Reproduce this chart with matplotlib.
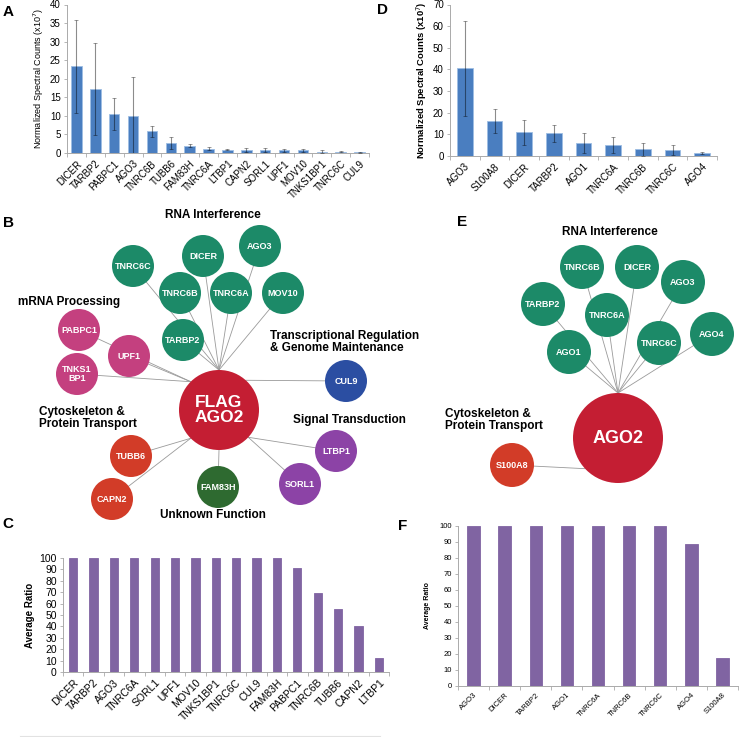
import numpy as np
import matplotlib
matplotlib.use("Agg")
import matplotlib.pyplot as plt
from matplotlib.patches import Circle

plt.rcParams['font.family'] = ['Liberation Sans', 'DejaVu Sans']

# --- panel A : normalized spectral counts, FLAG-AGO2 IP ----------------------
a_genes = ["DICER", "TARBP2", "PABPC1", "AGO3", "TNRC6B", "TUBB6", "FAM83H",
           "TNRC6A", "LTBP1", "CAPN2", "SORL1", "UPF1", "MOV10", "TNKS1BP1",
           "TNRC6C", "CUL9"]
a_counts = [23.3, 17.2, 10.5, 10.1, 5.8, 2.8, 2.0, 1.1, 0.9, 0.9, 0.8, 0.8,
            0.7, 0.4, 0.4, 0.15]
a_err = [12.5, 12.3, 4.3, 10.5, 1.6, 1.6, 0.5, 0.4, 0.1, 0.5, 0.6, 0.4, 0.5,
         0.3, 0.2, 0.05]

# --- panel D : normalized spectral counts, endogenous AGO2 IP ----------------
d_genes = ["AGO3", "S100A8", "DICER", "TARBP2", "AGO1", "TNRC6A", "TNRC6B",
           "TNRC6C", "AGO4"]
d_counts = [40.5, 16.2, 11.0, 10.5, 6.1, 5.2, 3.1, 2.8, 1.5]
d_err = [21.8, 5.5, 5.7, 4.0, 4.6, 3.8, 3.1, 2.3, 0.5]

# --- panels C / F : average ratio ------------------------------------------
c_genes = ["DICER", "TARBP2", "AGO3", "TNRC6A", "SORL1", "UPF1", "MOV10",
           "TNKS1BP1", "TNRC6C", "CUL9", "FAM83H", "PABPC1", "TNRC6B", "TUBB6",
           "CAPN2", "LTBP1"]
c_ratio = [100, 100, 100, 100, 100, 100, 100, 100, 100, 100, 100, 91.5, 69,
           55, 40, 12]
f_genes = ["AGO3", "DICER", "TARBP2", "AGO1", "TNRC6A", "TNRC6B", "TNRC6C",
           "AGO4", "S100A8"]
f_ratio = [100, 100, 100, 100, 100, 100, 100, 89, 17.5]

# --- networks B / E : node -> functional group ------------------------------
b_nodes = ["TNRC6C", "DICER", "AGO3", "TNRC6B", "TNRC6A", "MOV10", "TARBP2",
           "PABPC1", "UPF1", "TNKS1\nBP1", "CUL9", "LTBP1", "SORL1", "FAM83H",
           "TUBB6", "CAPN2"]
b_group = ["rna"] * 7 + ["mrna"] * 3 + ["tx", "sig", "sig", "unk", "cyto", "cyto"]
e_nodes = ["TNRC6B", "DICER", "AGO3", "TARBP2", "TNRC6A", "AGO4", "TNRC6C",
           "AGO1", "S100A8"]
e_group = ["rna"] * 8 + ["cyto"]

# layout (figure pixels, y downward)
B_POS = [(133, 266), (203, 256), (260, 246), (180, 293), (231, 293), (283, 293),
         (183, 340), (79, 330), (129, 356), (77, 374), (346, 381), (336, 451),
         (300, 484), (218, 487), (131, 456), (112, 499)]
E_POS = [(582, 267), (637, 267), (683, 282), (543, 304), (607, 315), (712, 334),
         (659, 343), (569, 352), (512, 465)]
GROUP_COL = {"rna": "#1c8a68", "mrna": "#c4407f", "cyto": "#d23c28",
             "tx": "#2b4ea2", "sig": "#8c43a6", "unk": "#2e6a30"}
B_ANCHOR = {"rna": 90, "mrna": 135, "tx": 48, "sig": -43, "unk": -90, "cyto": -135}
E_ANCHOR = {"rna": 90, "cyto": -137}
BLUE, BLUE_EDGE = "#4a7ec0", "#9dbde3"
PURPLE = "#8064a2"
W, H = 740, 737

fig = plt.figure(figsize=(W / 100, H / 100), dpi=100)

# overlay for networks and panel letters
ov = fig.add_axes([0, 0, 1, 1])
ov.set_xlim(0, W); ov.set_ylim(H, 0); ov.axis("off")


def network(nodes, groups, pos, hub, hub_r, hub_txt, node_r, anchors, hub_fs):
    hx, hy = hub
    for (x, y), g in zip(pos, groups):
        th = np.radians(anchors[g])
        ax_, ay_ = hx + hub_r * np.cos(th), hy - hub_r * np.sin(th)
        ov.plot([x, ax_], [y, ay_], color="#9a9a9a", lw=0.6, zorder=1)
    for (x, y), g, n in zip(pos, groups, nodes):
        ov.add_patch(Circle((x, y), node_r, color=GROUP_COL[g], zorder=2, lw=0))
        ov.text(x, y, n, color="white", fontsize=6.5, fontweight="bold",
                ha="center", va="center", zorder=3, linespacing=1.0)
    ov.add_patch(Circle(hub, hub_r, color="#c41e33", zorder=2, lw=0))
    ov.text(hx, hy, hub_txt, color="white", fontsize=hub_fs, fontweight="bold",
            ha="center", va="center", zorder=3, linespacing=1.05)


network(b_nodes, b_group, B_POS, (219, 410), 40, "FLAG\nAGO2", 21, B_ANCHOR, 12.5)
network(e_nodes, e_group, E_POS, (618, 438), 45, "AGO2", 22, E_ANCHOR, 13)

hk = dict(fontsize=8.5, fontweight="bold", zorder=3)
ov.text(213, 215, "RNA Interference", ha="center", va="center", **hk)
ov.text(69, 302, "mRNA Processing", ha="center", va="center", **hk)
ov.text(270, 342, "Transcriptional Regulation\n& Genome Maintenance",
        ha="left", va="center", linespacing=1.1, **hk)
ov.text(39, 418, "Cytoskeleton &\nProtein Transport", ha="left", va="center",
        linespacing=1.1, **hk)
ov.text(293, 420, "Signal Transduction", ha="left", va="center", **hk)
ov.text(213, 515, "Unknown Function", ha="center", va="center", **hk)
ov.text(610, 232, "RNA Interference", ha="center", va="center", **hk)
ov.text(445, 420, "Cytoskeleton &\nProtein Transport", ha="left", va="center",
        linespacing=1.1, **hk)

for lab, x, y in [("A", 8, 12), ("D", 383, 10), ("B", 8, 223), ("E", 462, 222),
                  ("C", 8, 524), ("F", 403, 526)]:
    ov.text(x, y, lab, fontsize=11, fontweight="bold", ha="center", va="center")

# faint frame edge left under panel C
ov.plot([20, 380], [735.5, 735.5], color="#e2e2e2", lw=0.8)


def bar_panel(px, names, vals, err, color, ymax, ystep, ylabel, width,
              xfs, yfs, lfs, lpad, edge=None, lweight="normal"):
    l, r, b, t = px
    ax = fig.add_axes([l / W, 1 - b / H, (r - l) / W, (b - t) / H])
    x = np.arange(len(names))
    ax.bar(x, vals, width=width, color=color,
           edgecolor=edge if edge else color, lw=0.6, zorder=2)
    if err is not None:
        ax.errorbar(x, vals, yerr=err, fmt="none", ecolor=(0, 0, 0, 0.45),
                    elinewidth=0.8, capsize=1.5, capthick=0.6, zorder=3)
    ax.set_xlim(-0.5, len(names) - 0.5); ax.set_ylim(0, ymax)
    ax.set_yticks(np.arange(0, ymax + 0.1, ystep))
    ax.set_xticks(x)
    ax.set_xticklabels(names, rotation=45, ha="right", rotation_mode="anchor",
                       fontsize=xfs)
    ax.set_xticks(np.arange(-0.5, len(names)), minor=True)
    ax.tick_params(axis="x", which="major", length=0, pad=4)
    ax.tick_params(axis="x", which="minor", length=3, color="#aaaaaa", width=0.6)
    ax.tick_params(axis="y", labelsize=yfs, length=2.5, color="#aaaaaa",
                   width=0.6, pad=2)
    ax.set_ylabel(ylabel, fontsize=lfs, labelpad=lpad, fontweight=lweight)
    for s in ("top", "right"):
        ax.spines[s].set_visible(False)
    for s in ("left", "bottom"):
        ax.spines[s].set_color("#aaaaaa"); ax.spines[s].set_linewidth(0.7)
    ax.patch.set_alpha(0)
    return ax


bar_panel((67, 369, 153, 4.5), a_genes, a_counts, a_err, BLUE, 40, 5,
          r"Normalized Spectral Counts (x10$^7$)", 0.55, 7, 7, 6.5, 3,
          edge=BLUE_EDGE)
bar_panel((450, 717, 156, 4.5), d_genes, d_counts, d_err, BLUE, 70, 10,
          r"Normalized Spectral Counts (x10$^7$)", 0.52, 7, 7, 6.8, 3,
          edge=BLUE_EDGE, lweight="bold")
bar_panel((63, 389, 672, 558), c_genes, c_ratio, None, PURPLE, 100, 10,
          "Average Ratio", 0.4, 7.5, 7.5, 7, 3, lweight="bold")
bar_panel((458, 738, 686, 526), f_genes, f_ratio, None, PURPLE, 100, 10,
          "Average Ratio", 0.4, 5.5, 5.5, 5, 6, lweight="bold")

fig.savefig("out.png", dpi=100)
